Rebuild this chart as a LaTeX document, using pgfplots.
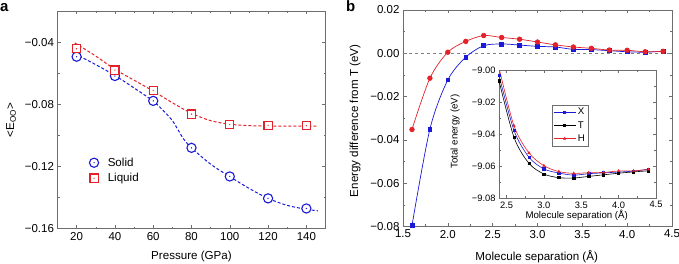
\documentclass[border=0pt]{standalone}
\usepackage{fontspec}
\setmainfont{Liberation Sans}
\usepackage{pgfplots}
\pgfplotsset{compat=1.18}
\definecolor{cblue}{RGB}{25,25,215}
\definecolor{cred}{RGB}{228,32,40}
\definecolor{axgray}{RGB}{110,110,110}
\pgfdeclareplotmark{bodot}{%
  \pgfsetfillcolor{white}%
  \pgfpathcircle{\pgfpointorigin}{\pgfplotmarksize}\pgfusepathqfillstroke
  \pgfsetfillcolor{cblue}%
  \pgfpathcircle{\pgfpointorigin}{0.7pt}\pgfusepathqfill}
\pgfdeclareplotmark{rsqdot}{%
  \pgfsetfillcolor{white}%
  \pgfpathrectangle{\pgfpoint{-\pgfplotmarksize}{-\pgfplotmarksize}}{\pgfpoint{2\pgfplotmarksize}{2\pgfplotmarksize}}\pgfusepathqfillstroke
  \pgfsetfillcolor{cred}%
  \pgfpathcircle{\pgfpointorigin}{0.7pt}\pgfusepathqfill}
\pgfplotsset{
  common/.style={scale only axis, scaled ticks=false,
    axis line style={axgray, line width=0.6pt},
    every tick/.style={axgray, line width=0.5pt},
    major tick length=3.5pt, minor tick length=2pt,
    tick label style={font=\fontsize{11.5}{13}\selectfont},
    label style={font=\fontsize{11.6}{13}\selectfont},
    /pgf/number format/assume math mode=true},
  dsh/.style={line width=1pt, dash pattern=on 3pt off 2pt, smooth, tension=0.55, forget plot}
}
\begin{document}
\begin{tikzpicture}
\path[use as bounding box] (0pt,0pt) rectangle (679pt,264pt);
\node[anchor=base west, inner sep=0pt, font=\fontsize{15}{16}\selectfont\bfseries] at (0pt,252pt) {a};
\node[anchor=base west, inner sep=0pt, font=\fontsize{15}{16}\selectfont\bfseries] at (346pt,252pt) {b};

% ---------- panel a
\begin{axis}[common, at={(57.5pt,35.3pt)}, anchor=south west, width=268pt, height=217.7pt,
  xmin=10, xmax=150, ymin=-0.16, ymax=-0.02,
  xtick={20,40,60,80,100,120,140}, xticklabels={20,40,60,80,100,120,140}, minor x tick num=1,
  ytick={-0.16,-0.12,-0.08,-0.04}, yticklabels={−0.16,−0.12,−0.08,−0.04}, minor y tick num=1,
  xlabel={Pressure (GPa)}, ylabel={<E\textsubscript{OO}>},
  xlabel style={at={(axis description cs:0.5,-0.129)}, anchor=center},
  ylabel style={at={(axis description cs:-0.173,0.5)}, anchor=center},
  legend style={at={(axis description cs:0.092,0.345)}, anchor=north west, draw=none, fill=none,
    font=\fontsize{11.6}{13}\selectfont, row sep=1.5pt},
  legend cell align=left,
  legend image code/.code={\draw[#1] plot coordinates {(8.5pt,0pt)}; \path (0pt,0pt) (20pt,0pt);}]
\addplot[cblue, dsh] coordinates {(19,-0.0475) (30,-0.0545) (40,-0.0615) (50,-0.0695) (60,-0.078) (66,-0.085) (70,-0.0905) (73,-0.0965) (76,-0.1025) (80,-0.108) (90,-0.1185) (100,-0.1265) (110,-0.134) (120,-0.1405) (130,-0.145) (140,-0.1475) (146,-0.1485)};
\addplot[cred, dsh] coordinates {(19,-0.0405) (30,-0.049) (40,-0.0575) (50,-0.0645) (60,-0.0715) (70,-0.079) (80,-0.0858) (90,-0.0905) (100,-0.0928) (110,-0.0937) (120,-0.094) (130,-0.094) (140,-0.094) (146,-0.094)};
\addplot[only marks, mark=bodot, mark size=4.6pt, mark options={cblue, line width=1.1pt}] coordinates {(20,-0.0494) (40,-0.0618) (60,-0.0778) (80,-0.108) (100,-0.1264) (120,-0.1405) (140,-0.147)};
\addlegendentry{Solid}
\addplot[only marks, mark=rsqdot, mark size=4.1pt, mark options={cred, line width=1.1pt}] coordinates {(20,-0.0443) (40,-0.058) (60,-0.071) (80,-0.0863) (100,-0.093) (120,-0.0935) (140,-0.0938)};
\addlegendentry{Liquid}
\end{axis}

% ---------- panel b
\begin{axis}[common, at={(403pt,37.5pt)}, anchor=south west, width=269pt, height=216.5pt,
  xmin=1.5, xmax=4.5, ymin=-0.08, ymax=0.02,
  xtick={1.5,2.0,2.5,3.0,3.5,4.0,4.5}, xticklabels={1.5,2.0,2.5,3.0,3.5,4.0,4.5}, minor x tick num=1,
  ytick={-0.08,-0.06,-0.04,-0.02,0,0.02}, yticklabels={−0.08,−0.06,−0.04,−0.02,0.00,0.02}, minor y tick num=1,
  xlabel={Molecule separation (Å)}, ylabel={Energy difference from T (eV)},
  xlabel style={at={(axis description cs:0.497,-0.14)}, anchor=center},
  ylabel style={at={(axis description cs:-0.178,0.488)}, anchor=center}]
\addplot[gray, dashed, line width=0.6pt] coordinates {(1.5,0) (4.5,0)};
\addplot[cblue, line width=0.7pt, smooth, mark=square*, mark size=1.9pt, mark options={solid}] coordinates {(1.6,-0.0796) (1.8,-0.035) (2.0,-0.0123) (2.2,-0.0018) (2.4,0.0035) (2.6,0.0043) (2.8,0.0038) (3.0,0.0032) (3.2,0.0029) (3.4,0.0018) (3.6,0.0017) (3.8,0.0012) (4.0,0.0007) (4.2,0.0005) (4.4,0.0010)};
\addplot[cred, line width=0.7pt, smooth, mark=*, mark size=2.3pt] coordinates {(1.6,-0.0352) (1.8,-0.0115) (2.0,0.0005) (2.2,0.0055) (2.4,0.0082) (2.6,0.0073) (2.8,0.0065) (3.0,0.0052) (3.2,0.0039) (3.4,0.0029) (3.6,0.0023) (3.8,0.0015) (4.0,0.0014) (4.2,0.0007) (4.4,0.0009)};
\end{axis}

% ---------- inset
\begin{axis}[common, at={(499pt,66pt)}, anchor=south west, width=157pt, height=128pt,
  axis background/.style={fill=white},
  xmin=2.4, xmax=4.5, ymin=-9.08, ymax=-9.00,
  xtick={2.5,3.0,3.5,4.0,4.5}, xticklabels={2.5,3.0,3.5,4.0,4.5}, minor x tick num=1,
  ytick={-9.08,-9.06,-9.04,-9.02,-9.00}, yticklabels={−9.08,−9.06,−9.04,−9.02,−9.00}, minor y tick num=1,
  tick label style={font=\fontsize{9.3}{11}\selectfont},
  label style={font=\fontsize{9.7}{11}\selectfont},
  major tick length=3pt, minor tick length=1.6pt,
  xlabel={Molecule separation (Å)}, ylabel={Total energy (eV)},
  xlabel style={at={(axis description cs:0.495,-0.133)}, anchor=center},
  ylabel style={at={(axis description cs:-0.28,0.52)}, anchor=center},
  legend style={at={(axis description cs:0.335,0.73)}, anchor=north west, draw=axgray, line width=0.4pt,
    font=\fontsize{9.7}{11}\selectfont, row sep=1pt, inner sep=1.5pt},
  legend cell align=left,
  legend image code/.code={\draw[mark repeat=2, mark phase=2, #1] plot coordinates {(0pt,0pt) (11pt,0pt) (22pt,0pt)};}]
\addplot[cblue, line width=0.6pt, smooth, mark=square*, mark size=1.1pt] coordinates {(2.4,-9.0032) (2.6,-9.0377) (2.8,-9.0545) (3.0,-9.0618) (3.2,-9.0644) (3.4,-9.0657) (3.6,-9.0648) (3.8,-9.0643) (4.0,-9.0638) (4.2,-9.0632) (4.4,-9.0620)};
\addlegendentry{X}
\addplot[black, line width=0.6pt, smooth, mark=square*, mark size=1.1pt] coordinates {(2.4,-9.0067) (2.6,-9.042) (2.8,-9.0583) (3.0,-9.065) (3.2,-9.0673) (3.4,-9.0675) (3.6,-9.0665) (3.8,-9.0655) (4.0,-9.0645) (4.2,-9.0637) (4.4,-9.063)};
\addlegendentry{T}
\addplot[cred, line width=0.6pt, smooth, mark=triangle*, mark size=1.3pt] coordinates {(2.4,-8.9986) (2.6,-9.0348) (2.8,-9.0518) (3.0,-9.0598) (3.2,-9.0635) (3.4,-9.0646) (3.6,-9.0642) (3.8,-9.0640) (4.0,-9.0631) (4.2,-9.0630) (4.4,-9.0622)};
\addlegendentry{H}
\end{axis}
\end{tikzpicture}
\end{document}
